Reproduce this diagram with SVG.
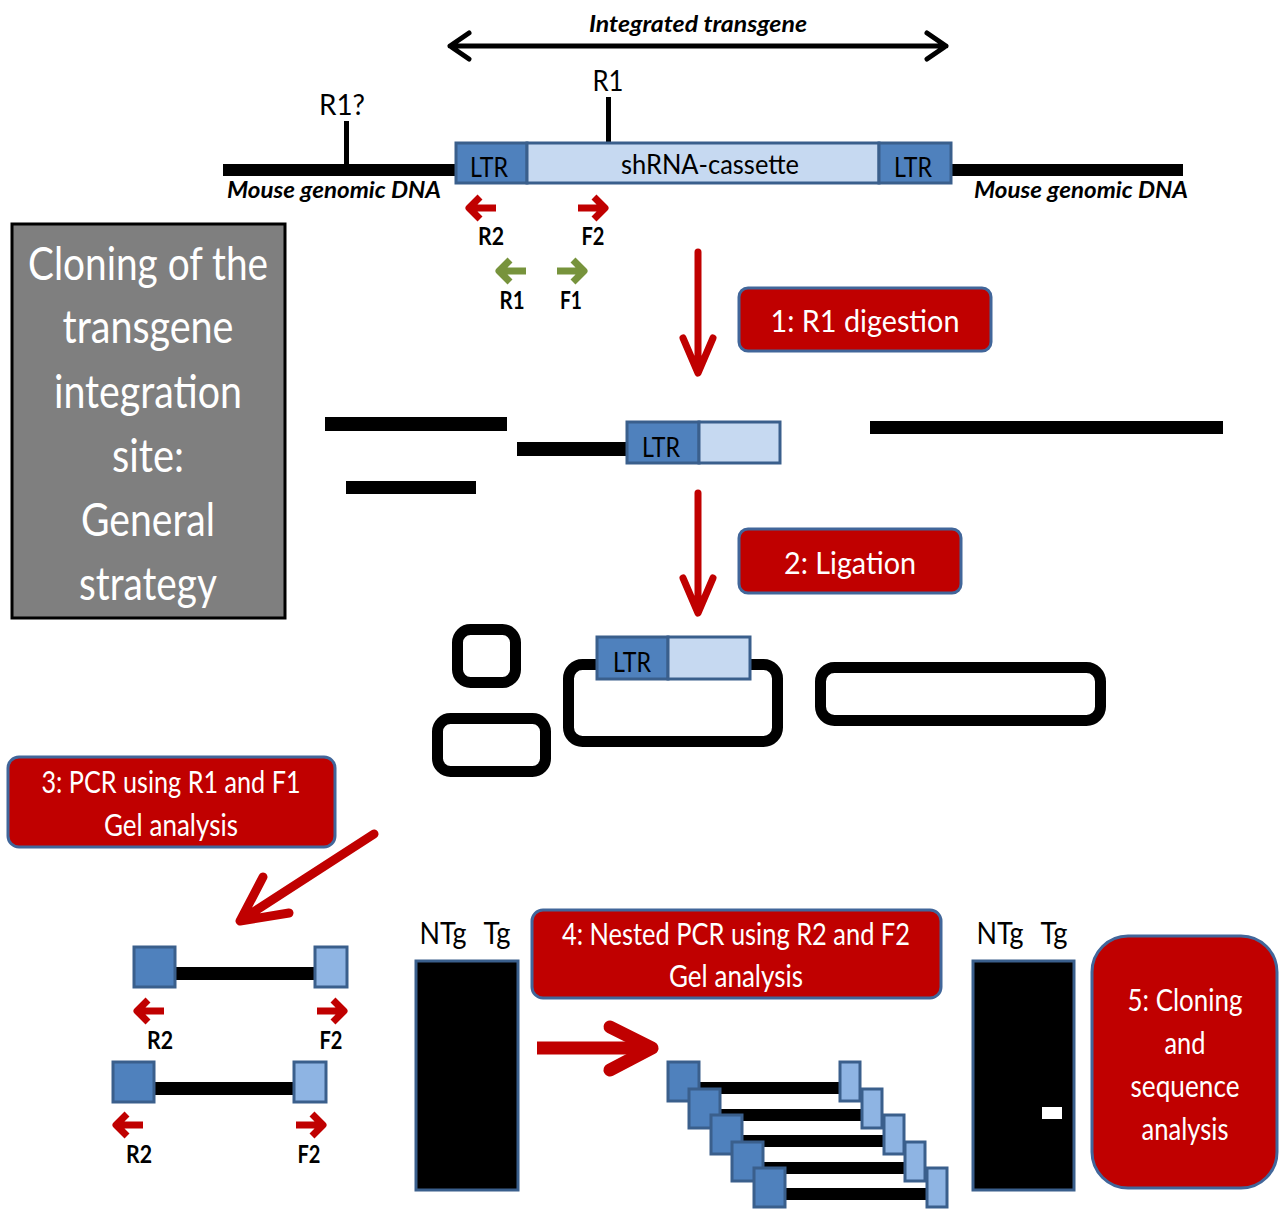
<svg xmlns="http://www.w3.org/2000/svg" xmlns:xlink="http://www.w3.org/1999/xlink" width="1285" height="1209" viewBox="0 0 1285 1209">
<style>
.t{font-family:Lato,"Liberation Sans",sans-serif;fill:#000}
.w{fill:#fff}
.b{font-weight:bold}
.bi{font-weight:bold;font-style:italic}
.step{fill:#c00000;stroke:#41669a;stroke-width:3}
.ltr{fill:#4f81bd;stroke:#3a5f8c;stroke-width:3}
.cas{fill:#c6d9f1;stroke:#3a5f8c;stroke-width:3}
.sq1{fill:#4f81bd;stroke:#3a5f8c;stroke-width:3}
.sq2{fill:#8eb4e3;stroke:#3a5f8c;stroke-width:3}
.loop{fill:none;stroke:#000;stroke-width:11}
.red{stroke:#c00000;fill:none;stroke-linecap:round;stroke-linejoin:round}
.blk{stroke:#000;fill:none}
.gel{fill:#000;stroke:#3a5f8c;stroke-width:3}
</style>
<defs>
<path id="pl" d="M2,0 H29 M13,-11 L2,0 L13,11" fill="none" stroke-width="7" stroke-linejoin="round"/>
<path id="pr" d="M0,0 H27 M16,-11 L27,0 L16,11" fill="none" stroke-width="7" stroke-linejoin="round"/>
</defs>

<g id="connectors">
  <path class="blk" d="M450,46 H946 M469,33 L450,46 L469,59 M927,33 L946,46 L927,59" stroke-width="5" stroke-linecap="round" stroke-linejoin="round"/>
  <path class="red" d="M698,252 V372 M683,338 L698,373 L713,338" stroke-width="7"/>
  <path class="red" d="M698,493 V612 M683,578 L698,613 L713,578" stroke-width="7"/>
  <path class="red" d="M374,834 L241,920 M263,877 L240,921 L289,913" stroke-width="9"/>
  <path d="M537,1048 H650" stroke="#c00000" stroke-width="13" fill="none"/>
  <path class="red" d="M610,1027 L652,1048 L610,1070" stroke-width="13"/>
</g>

<g id="title-arrow-label">
  <text class="t bi" x="698" y="32" font-size="23" text-anchor="middle" textLength="218" lengthAdjust="spacingAndGlyphs">Integrated transgene</text>
</g>

<g id="genomic-dna">
  <rect x="223" y="164" width="235" height="12" fill="#000"/>
  <rect x="950" y="164" width="233" height="12" fill="#000"/>
  <rect x="344" y="121" width="5" height="45" fill="#000"/>
  <text class="t" x="342" y="115" font-size="28" text-anchor="middle" textLength="46" lengthAdjust="spacingAndGlyphs">R1?</text>
  <rect x="606" y="97" width="5" height="48" fill="#000"/>
  <text class="t" x="608" y="91" font-size="29" text-anchor="middle" textLength="31" lengthAdjust="spacingAndGlyphs">R1</text>
  <text class="t bi" x="334" y="198" font-size="22" text-anchor="middle" textLength="214" lengthAdjust="spacingAndGlyphs">Mouse genomic DNA</text>
  <text class="t bi" x="1081" y="198" font-size="22" text-anchor="middle" textLength="214" lengthAdjust="spacingAndGlyphs">Mouse genomic DNA</text>
</g>

<g id="transgene">
  <rect class="ltr" x="456" y="143" width="71" height="40"/>
  <rect class="cas" x="527" y="143" width="352" height="40"/>
  <rect class="ltr" x="879" y="143" width="72" height="40"/>
  <text class="t" x="489" y="177" font-size="26" text-anchor="middle" textLength="38" lengthAdjust="spacingAndGlyphs">LTR</text>
  <text class="t" x="710" y="174" font-size="27" text-anchor="middle" textLength="178" lengthAdjust="spacingAndGlyphs">shRNA-cassette</text>
  <text class="t" x="913" y="177" font-size="26" text-anchor="middle" textLength="38" lengthAdjust="spacingAndGlyphs">LTR</text>
</g>

<g id="primers-top">
  <use xlink:href="#pl" x="467" y="208" stroke="#c00000"/>
  <use xlink:href="#pr" x="578" y="208" stroke="#c00000"/>
  <text class="t b" x="491" y="245" font-size="24" text-anchor="middle" textLength="26" lengthAdjust="spacingAndGlyphs">R2</text>
  <text class="t b" x="593" y="245" font-size="24" text-anchor="middle" textLength="23" lengthAdjust="spacingAndGlyphs">F2</text>
  <use xlink:href="#pl" x="497" y="271" stroke="#77933c"/>
  <use xlink:href="#pr" x="557" y="271" stroke="#77933c"/>
  <text class="t b" x="512" y="309" font-size="24" text-anchor="middle" textLength="25" lengthAdjust="spacingAndGlyphs">R1</text>
  <text class="t b" x="571" y="309" font-size="24" text-anchor="middle" textLength="22" lengthAdjust="spacingAndGlyphs">F1</text>
</g>

<g id="title-box">
  <rect x="12" y="224" width="273" height="394" fill="#7f7f7f" stroke="#000" stroke-width="3"/>
  <g class="t w" font-size="46" text-anchor="middle">
    <text class="w" x="148" y="280" textLength="240" lengthAdjust="spacingAndGlyphs">Cloning of the</text>
    <text class="w" x="148" y="343" textLength="171" lengthAdjust="spacingAndGlyphs">transgene</text>
    <text class="w" x="148" y="408" textLength="188" lengthAdjust="spacingAndGlyphs">integration</text>
    <text class="w" x="148" y="472" textLength="72" lengthAdjust="spacingAndGlyphs">site:</text>
    <text class="w" x="148" y="536" textLength="134" lengthAdjust="spacingAndGlyphs">General</text>
    <text class="w" x="148" y="600" textLength="138" lengthAdjust="spacingAndGlyphs">strategy</text>
  </g>
</g>

<g id="step1">
  <rect class="step" x="739" y="288" width="252" height="63" rx="9"/>
  <text class="t w" x="865" y="332" font-size="31" text-anchor="middle" textLength="189" lengthAdjust="spacingAndGlyphs">1: R1 digestion</text>
</g>

<g id="fragments">
  <rect x="325" y="417" width="182" height="14" fill="#000"/>
  <rect x="346" y="481" width="130" height="13" fill="#000"/>
  <rect x="517" y="442" width="112" height="14" fill="#000"/>
  <rect class="ltr" x="627" y="422" width="72" height="41"/>
  <rect class="cas" x="699" y="422" width="81" height="41"/>
  <text class="t" x="661" y="457" font-size="26" text-anchor="middle" textLength="38" lengthAdjust="spacingAndGlyphs">LTR</text>
  <rect x="870" y="421" width="353" height="13" fill="#000"/>
</g>

<g id="step2">
  <rect class="step" x="739" y="529" width="222" height="64" rx="9"/>
  <text class="t w" x="850" y="574" font-size="31" text-anchor="middle" textLength="132" lengthAdjust="spacingAndGlyphs">2: Ligation</text>
</g>

<g id="ligation-circles">
  <rect class="loop" x="457.5" y="629.5" width="58" height="53" rx="13"/>
  <rect class="loop" x="437.5" y="718.5" width="108" height="53" rx="13"/>
  <rect class="loop" x="568.5" y="664.5" width="209" height="77" rx="14"/>
  <rect class="loop" x="820.5" y="667.5" width="280" height="53" rx="14"/>
  <rect class="ltr" x="597" y="637" width="71" height="42"/>
  <rect class="cas" x="668" y="637" width="82" height="42"/>
  <text class="t" x="632" y="672" font-size="26" text-anchor="middle" textLength="38" lengthAdjust="spacingAndGlyphs">LTR</text>
</g>

<g id="step3">
  <rect class="step" x="8" y="757" width="327" height="90" rx="11"/>
  <text class="t w" x="171" y="793" font-size="30" text-anchor="middle" textLength="259" lengthAdjust="spacingAndGlyphs">3: PCR using R1 and F1</text>
  <text class="t w" x="171" y="836" font-size="30" text-anchor="middle" textLength="134" lengthAdjust="spacingAndGlyphs">Gel analysis</text>
</g>

<g id="pcr-products">
  <rect x="174" y="967" width="143" height="13" fill="#000"/>
  <rect class="sq1" x="134" y="947" width="41" height="40"/>
  <rect class="sq2" x="315" y="947" width="32" height="40"/>
  <use xlink:href="#pl" x="135" y="1011" stroke="#c00000"/>
  <use xlink:href="#pr" x="317" y="1011" stroke="#c00000"/>
  <text class="t b" x="160" y="1049" font-size="24" text-anchor="middle" textLength="26" lengthAdjust="spacingAndGlyphs">R2</text>
  <text class="t b" x="331" y="1049" font-size="24" text-anchor="middle" textLength="23" lengthAdjust="spacingAndGlyphs">F2</text>
  <rect x="153" y="1082" width="141" height="13" fill="#000"/>
  <rect class="sq1" x="113" y="1062" width="41" height="40"/>
  <rect class="sq2" x="294" y="1062" width="32" height="40"/>
  <use xlink:href="#pl" x="114" y="1125" stroke="#c00000"/>
  <use xlink:href="#pr" x="296" y="1125" stroke="#c00000"/>
  <text class="t b" x="139" y="1163" font-size="24" text-anchor="middle" textLength="26" lengthAdjust="spacingAndGlyphs">R2</text>
  <text class="t b" x="309" y="1163" font-size="24" text-anchor="middle" textLength="23" lengthAdjust="spacingAndGlyphs">F2</text>
</g>

<g id="gel1">
  <text class="t" x="443" y="944" font-size="31" text-anchor="middle" textLength="47" lengthAdjust="spacingAndGlyphs">NTg</text>
  <text class="t" x="497" y="944" font-size="31" text-anchor="middle" textLength="27" lengthAdjust="spacingAndGlyphs">Tg</text>
  <rect class="gel" x="416" y="961" width="102" height="229"/>
</g>

<g id="step4">
  <rect class="step" x="532" y="910" width="409" height="88" rx="11"/>
  <text class="t w" x="736" y="945" font-size="30" text-anchor="middle" textLength="348" lengthAdjust="spacingAndGlyphs">4: Nested PCR using R2 and F2</text>
  <text class="t w" x="736" y="987" font-size="30" text-anchor="middle" textLength="134" lengthAdjust="spacingAndGlyphs">Gel analysis</text>
</g>

<g id="nested-products">
  <rect x="699" y="1082" width="141" height="12" fill="#000"/>
  <rect class="sq1" x="668" y="1062" width="31" height="39"/>
  <rect class="sq2" x="840" y="1062" width="20" height="39"/>
  <rect x="720" y="1109" width="142" height="12" fill="#000"/>
  <rect class="sq1" x="689" y="1089" width="31" height="39"/>
  <rect class="sq2" x="862" y="1089" width="20" height="39"/>
  <rect x="742" y="1135" width="142" height="12" fill="#000"/>
  <rect class="sq1" x="711" y="1115" width="31" height="39"/>
  <rect class="sq2" x="884" y="1115" width="20" height="39"/>
  <rect x="763" y="1162" width="142" height="12" fill="#000"/>
  <rect class="sq1" x="732" y="1142" width="31" height="39"/>
  <rect class="sq2" x="905" y="1142" width="20" height="39"/>
  <rect x="785" y="1188" width="142" height="12" fill="#000"/>
  <rect class="sq1" x="754" y="1168" width="31" height="39"/>
  <rect class="sq2" x="927" y="1168" width="20" height="39"/>
</g>

<g id="gel2">
  <text class="t" x="1000" y="944" font-size="31" text-anchor="middle" textLength="47" lengthAdjust="spacingAndGlyphs">NTg</text>
  <text class="t" x="1054" y="944" font-size="31" text-anchor="middle" textLength="27" lengthAdjust="spacingAndGlyphs">Tg</text>
  <rect class="gel" x="973" y="961" width="101" height="229"/>
  <rect x="1042" y="1107" width="20" height="12" fill="#fff"/>
</g>

<g id="step5">
  <rect class="step" x="1092" y="936" width="185" height="252" rx="36"/>
  <text class="t w" x="1185" y="1011" font-size="30" text-anchor="middle" textLength="115" lengthAdjust="spacingAndGlyphs">5: Cloning</text>
  <text class="t w" x="1185" y="1054" font-size="30" text-anchor="middle" textLength="41" lengthAdjust="spacingAndGlyphs">and</text>
  <text class="t w" x="1185" y="1097" font-size="30" text-anchor="middle" textLength="109" lengthAdjust="spacingAndGlyphs">sequence</text>
  <text class="t w" x="1185" y="1140" font-size="30" text-anchor="middle" textLength="87" lengthAdjust="spacingAndGlyphs">analysis</text>
</g>
</svg>
